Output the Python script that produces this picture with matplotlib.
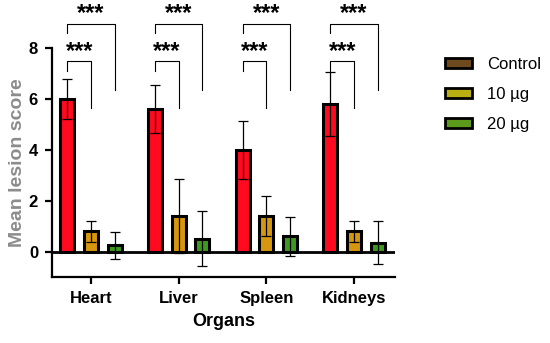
import numpy as np
from matplotlib import pyplot as plt
from matplotlib.patches import Patch

plt.rcParams["font.family"] = ["Liberation Sans", "DejaVu Sans"]

organs = ["Heart", "Liver", "Spleen", "Kidneys"]
groups = ["Control", "10 µg", "20 µg"]
means = {
    "Control": [6.0, 5.6, 4.0, 5.8],
    "10 µg": [0.8, 1.4, 1.4, 0.8],
    "20 µg": [0.25, 0.5, 0.6, 0.35],
}
errors = {
    "Control": [0.8, 0.95, 1.15, 1.25],
    "10 µg": [0.42, 1.45, 0.8, 0.42],
    "20 µg": [0.53, 1.08, 0.75, 0.85],
}
stars = "***"

bar_colors = ["#FF0A1E", "#D6960F", "#3E9A1E"]
legend_colors = ["#6E4A1E", "#B9AE12", "#5C9A1C"]

fig = plt.figure(figsize=(5.5, 3.43), dpi=100)
ax = fig.add_axes([0.0945, 0.192, 0.6235, 0.668])

x = np.arange(len(organs))
offset = 0.27
width = 0.16
for i, g in enumerate(groups):
    ax.bar(x + (i - 1) * offset, means[g], width, color=bar_colors[i],
           edgecolor="black", linewidth=2.2, zorder=2)
    ax.errorbar(x + (i - 1) * offset, means[g], yerr=errors[g], fmt="none",
                ecolor="black", elinewidth=0.9, capsize=3.5, capthick=0.9, zorder=3)

ax.axhline(0, color="black", linewidth=2, zorder=4)

# significance brackets (control vs 10 µg, control vs 20 µg)
for xc in x:
    x0, x1, x2 = xc - offset, xc, xc + offset
    ax.plot([x0, x0, x1, x1], [7.1, 7.5, 7.5, 5.65], color="black", lw=0.8, clip_on=False)
    ax.text((x0 + x1) / 2, 7.87, stars, ha="center", va="center", fontsize=17,
            fontweight="bold", clip_on=False)
    ax.plot([x0, x0, x2, x2], [8.6, 8.95, 8.95, 6.35], color="black", lw=0.8, clip_on=False)
    ax.text((x0 + x2) / 2, 9.35, stars, ha="center", va="center", fontsize=17,
            fontweight="bold", clip_on=False)

ax.set_xlim(-0.445, 3.467)
ax.set_ylim(-1, 8)
ax.set_yticks([0, 2, 4, 6, 8])
ax.set_xticks(x)
ax.set_xticklabels(organs)
ax.spines["top"].set_visible(False)
ax.spines["right"].set_visible(False)
ax.spines["left"].set_linewidth(1.6)
ax.spines["bottom"].set_linewidth(1.6)
ax.spines["left"].set_bounds(-1, 8)
ax.tick_params(width=1.6, length=5, labelsize=12, pad=5)
for lbl in ax.get_xticklabels() + ax.get_yticklabels():
    lbl.set_fontweight("bold")

ax.set_xlabel("Organs", fontsize=13, fontweight="bold", labelpad=5)
ax.set_ylabel("Mean lesion score", fontsize=14, fontweight="bold", color="#8C8C8C", labelpad=2)

handles = [Patch(facecolor=c, edgecolor="black", linewidth=2) for c in legend_colors]
fig.legend(handles, groups, loc="upper left", bbox_to_anchor=(0.782, 0.878),
           frameon=False, fontsize=12, handlelength=1.6, handleheight=0.6,
           labelspacing=0.9, handletextpad=0.9)

plt.savefig("out.png", dpi=100)
